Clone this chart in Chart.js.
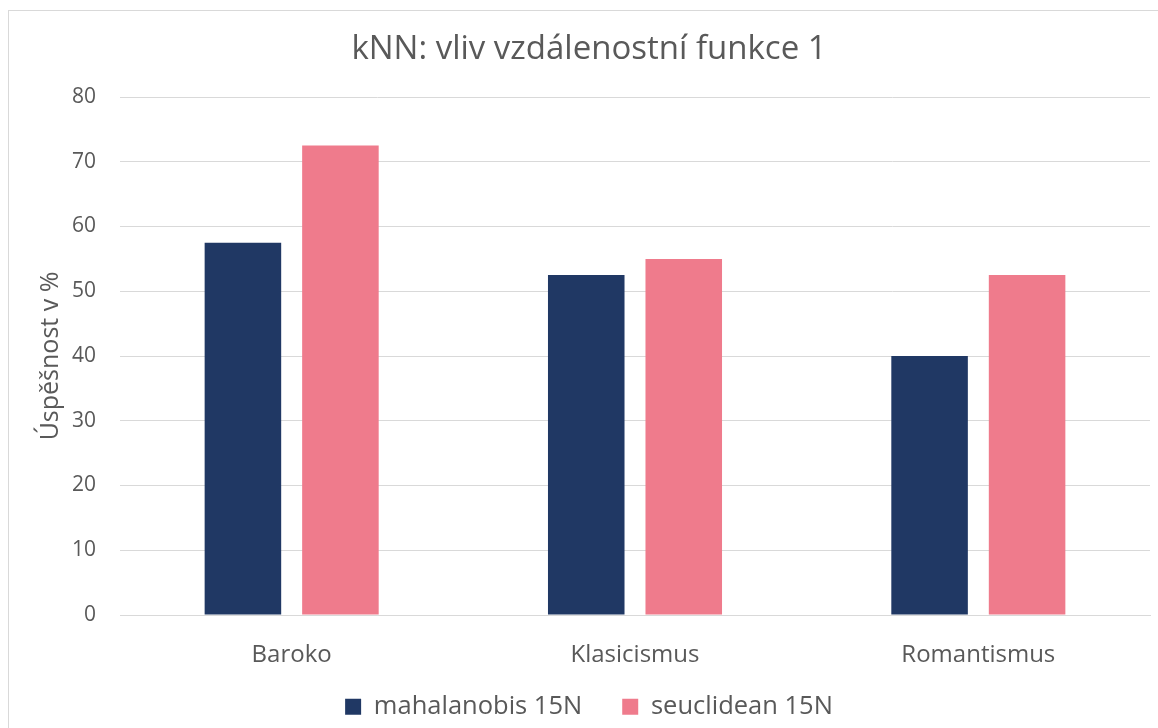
<!DOCTYPE html>
<html><head><meta charset="utf-8">
<script src="https://cdn.jsdelivr.net/npm/chart.js@4"></script>
<style>
html,body{margin:0;padding:0;background:#fff;}
#wrap{position:relative;width:1158px;height:728px;}
#frame{position:absolute;left:8px;top:10px;width:1160px;height:730px;border:1px solid #d9d9d9;box-sizing:border-box;pointer-events:none;}
canvas{position:absolute;left:0;top:0;}
</style></head>
<body>
<div id="wrap"><canvas id="c" width="1158" height="728"></canvas><div id="frame"></div></div>
<script>
const categories = ["Baroko", "Klasicismus", "Romantismus"];
const mahalanobis = [57.5, 52.5, 40.0];
const seuclidean = [72.5, 55.0, 52.5];
const seriesNames = ["mahalanobis 15N", "seuclidean 15N"];
const titleText = "kNN: vliv vzdálenostní funkce 1";
const yTitle = "Úspěšnost v %";

const FONT = "'Open Sans', 'Noto Sans', sans-serif";
const TXT = "#595959";

// legend: wide horizontal gap between items, but compact box height
const LEGEND_H = 40, LEGEND_SHIFT = 34;
const legendFix = {
  id: 'legendFix',
  beforeLayout(chart) {
    const lg = chart.legend;
    if (lg && !lg._fixed) {
      const fit = lg.fit.bind(lg);
      lg.fit = function () { fit(); this.height = LEGEND_H; };
      const draw = lg.draw.bind(lg);
      lg.draw = function () { this.top -= LEGEND_SHIFT; draw(); this.top += LEGEND_SHIFT; };
      lg._fixed = true;
    }
  }
};

new Chart(document.getElementById('c'), {
  type: 'bar',
  data: {
    labels: categories,
    datasets: [
      {label: seriesNames[0], data: mahalanobis, backgroundColor: '#203864'},
      {label: seriesNames[1], data: seuclidean, backgroundColor: '#EF7B8C'}
    ]
  },
  plugins: [legendFix],
  options: {
    responsive: false,
    animation: false,
    devicePixelRatio: 1,
    layout: {padding: {left: 28, right: 8, top: 0, bottom: 0}},
    datasets: {bar: {categoryPercentage: 0.568, barPercentage: 0.785}},
    plugins: {
      title: {display: true, text: titleText, color: TXT,
        font: {family: FONT, size: 33, weight: 'normal'}, padding: {top: 30.2, bottom: 27.2}},
      legend: {position: 'bottom', labels: {color: TXT, font: {family: FONT, size: 25.5},
        boxWidth: 16, boxHeight: 16, padding: 40}},
      tooltip: {enabled: false}
    },
    scales: {
      x: {
        grid: {display: false, drawTicks: false},
        border: {color: '#d9d9d9'},
        ticks: {color: TXT, font: {family: FONT, size: 24}, padding: 26},
        afterFit: s => { s.height = 73; }
      },
      y: {
        min: 0, max: 80,
        grid: {color: '#d9d9d9', drawTicks: false},
        border: {display: false},
        ticks: {stepSize: 10, color: TXT, font: {family: FONT, size: 21}, padding: 24},
        title: {display: true, text: yTitle, color: TXT, font: {family: FONT, size: 25}, padding: {top: 8, bottom: 0}},
        afterFit: s => { s.width = 92; }
      }
    }
  }
});
</script>
</body></html>
